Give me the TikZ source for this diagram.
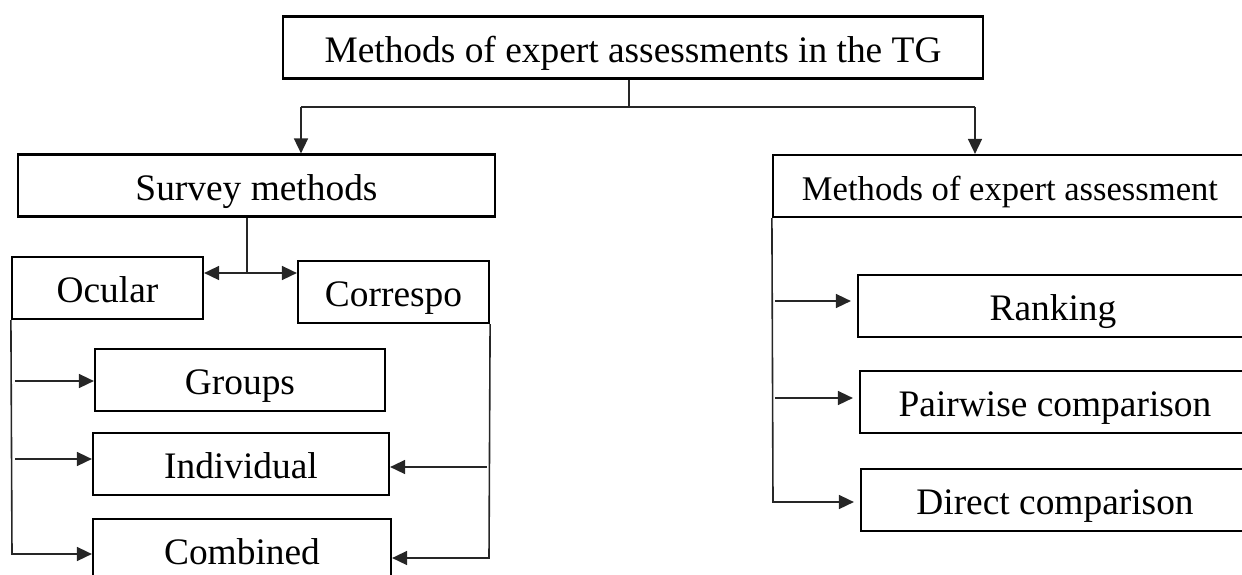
\documentclass[tikz,border=0pt]{standalone}
\usepackage{fontspec}
\setmainfont{Liberation Serif}
\usetikzlibrary{arrows.meta,positioning}

\begin{document}
\begin{tikzpicture}[x=0.5pt,y=-0.5pt,
        box/.style={draw,line width=1.1pt,inner sep=0pt,minimum height=31pt,
            text height=18pt,text depth=3.5pt,font=\fontsize{18.7}{22}\selectfont},
        link/.style={line width=0.8pt,draw=black!85},
        arr/.style={link,-{Triangle[length=7.5pt,width=7pt]}}]
    \useasboundingbox (0,0) rectangle (1242,574);
    \clip (0,0) rectangle (1242,574);

    % boxes
    \node[box,minimum width=350pt] (top) at (633,47.5) {Methods of expert assessments in the TG};
    \node[box,minimum width=238.5pt] (survey) at (256.5,185.5) {Survey methods};
    \node[box,minimum width=237pt,font=\fontsize{17.3}{21}\selectfont] (expert) at (1010,186) {Methods of expert assessment};
    \node[box,minimum width=95.5pt] (ocular) at (107.5,288) {Ocular};
    \node[box,minimum width=95.5pt] (corr) at (393.5,292) {Correspo};
    \node[box,minimum width=145pt] (groups) at (240,380) {Groups};
    \node[box,minimum width=148pt] (indiv) at (241,464) {Individual};
    \node[box,minimum width=149pt] (comb) at (242,550) {Combined};
    \node[box,minimum width=195pt] (rank) at (1053,306) {Ranking};
    \node[box,minimum width=195pt] (pair) at (1055,402) {Pairwise comparison};
    \node[box,minimum width=194pt] (direct) at (1055,500) {Direct comparison};

    % top split
    \coordinate (split) at (629,107);
    \coordinate (sl) at (301,107);
    \coordinate (sr) at (975,107);
    \draw[link] (split |- top.south) -- (split);
    \draw[link] (sl) -- (sr);
    \draw[arr] (sl) -- (sl |- survey.north);
    \draw[arr] (sr) -- (sr |- expert.north);

    % survey split
    \coordinate (sj) at (247,273);
    \draw[link] (sj |- survey.south) -- (sj);
    \draw[arr] (sj) -- (sj -| ocular.east);
    \draw[arr] (sj) -- (sj -| corr.west);

    % left rail
    \coordinate (lb) at (12,554);
    \coordinate (lg) at (15,381);
    \coordinate (li) at (15,459);
    \draw[arr] (ocular.south west) -- (lb) -- (lb -| comb.west);
    \draw[arr] (lg) -- (lg -| groups.west);
    \draw[arr] (li) -- (li -| indiv.west);

    % right rail
    \coordinate (rb) at (489,558);
    \coordinate (ri) at (487,467);
    \draw[arr] (corr.south east) -- (rb) -- (rb -| comb.east);
    \draw[arr] (ri) -- (ri -| indiv.east);

    % expert rail
    \coordinate (eb) at (773,502);
    \coordinate (er) at (775,301);
    \coordinate (ep) at (775,398);
    \draw[arr,shorten >=3pt] (expert.south west) -- (eb) -- (eb -| direct.west);
    \draw[arr,shorten >=3pt] (er) -- (er -| rank.west);
    \draw[arr,shorten >=3pt] (ep) -- (ep -| pair.west);
\end{tikzpicture}
\end{document}
